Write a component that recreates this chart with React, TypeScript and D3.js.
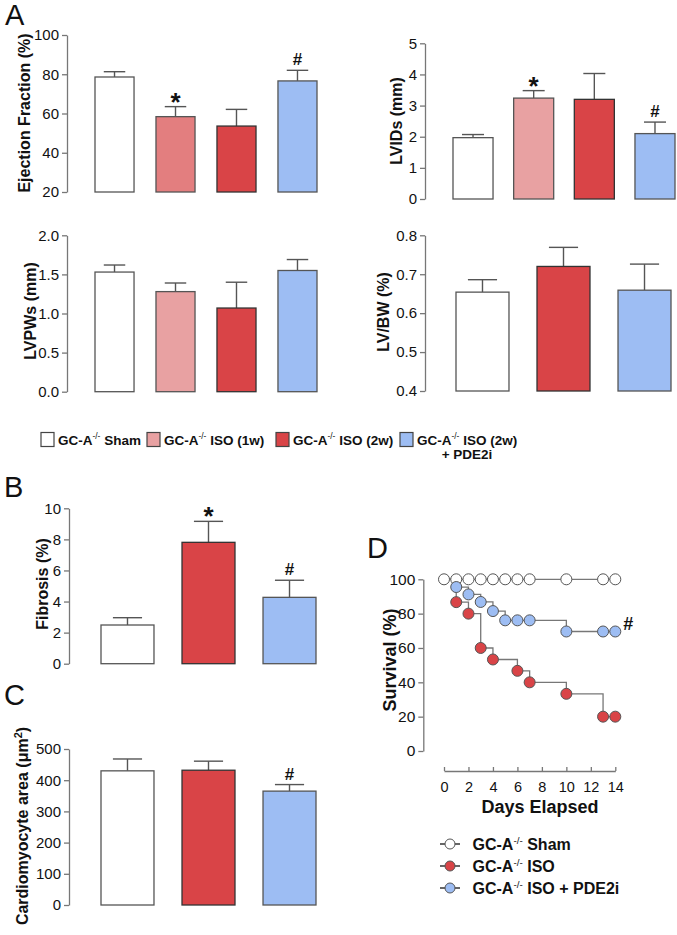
import React, { useEffect, useRef } from "react";
import * as d3 from "d3";

const FONT = "'Liberation Sans', Arial, Helvetica, sans-serif";

// groups
const groups4 = ["sham", "iso1w", "iso2w", "pde2i"];
const groups3 = ["sham", "iso2w", "pde2i"];

// panel A
const efMean = [78.6, 58.4, 53.6, 76.6];
const efSem = [2.7, 5.1, 8.5, 5.4];
const efMarks = ["", "*", "", "#"];
const efTicks = [20, 40, 60, 80, 100];

const lvidsMean = [1.97, 3.24, 3.2, 2.1];
const lvidsSem = [0.1, 0.24, 0.83, 0.37];
const lvidsMarks = ["", "*", "", "#"];
const lvidsTicks = [0, 1, 2, 3, 4, 5];

const lvpwsMean = [1.53, 1.28, 1.07, 1.55];
const lvpwsSem = [0.09, 0.11, 0.33, 0.14];
const lvpwsTicks = [0, 0.5, 1.0, 1.5, 2.0];

const lvbwMean = [0.654, 0.72, 0.659];
const lvbwSem = [0.032, 0.049, 0.067];
const lvbwTicks = [0.4, 0.5, 0.6, 0.7, 0.8];

// panel B
const fibMean = [2.49, 7.81, 4.27];
const fibSem = [0.47, 1.35, 1.1];
const fibMarks = ["", "*", "#"];
const fibTicks = [0, 2, 4, 6, 8, 10];

// panel C
const areaMean = [430, 432, 365];
const areaSem = [38, 29, 21];
const areaMarks = ["", "", "#"];
const areaTicks = [0, 100, 200, 300, 400, 500];

// panel D
const shamDays = [0, 1, 2, 3, 4, 5, 6, 7, 10, 13, 14];
const shamSurv = [100, 100, 100, 100, 100, 100, 100, 100, 100, 100, 100];
const isoDays = [1, 2, 3, 4, 6, 7, 10, 13, 14];
const isoSurv = [86.7, 80, 60, 53.3, 46.7, 40, 33.3, 20, 20];
const pdeDays = [1, 2, 3, 4, 5, 6, 7, 10, 13, 14];
const pdeSurv = [95.5, 91.2, 86.8, 81.5, 76.1, 76.1, 76.1, 69.6, 69.6, 69.6];
const survTicks = [0, 20, 40, 60, 80, 100];
const dayTicks = [0, 2, 4, 6, 8, 10, 12, 14];

const legendA = ["Sham", "ISO (1w)", "ISO (2w)", "ISO (2w)"];
const legendD = ["Sham", "ISO", "ISO + PDE2i"];

const colors: Record<string, string> = {
  sham: "#ffffff",
  iso1w: "#e8a1a2",
  iso2w: "#d94447",
  pde2i: "#9dbdf3",
};

function barPanel(svg: any, p: any) {
  const x = d3.scaleBand().domain(p.groups).range([p.x0, p.x1]).paddingInner(p.pad);
  const y = d3.scaleLinear().domain(p.domain).range([p.bottom, p.top]);
  const g = svg.append("g");

  const ax = g
    .append("g")
    .attr("transform", `translate(${p.axisX},0)`)
    .call(
      d3.axisLeft(y).tickValues(p.ticks).tickSize(5).tickSizeOuter(0).tickPadding(3).tickFormat(p.fmt)
    );
  ax.attr("font-family", null).attr("font-size", null);
  ax.select(".domain").attr("stroke", "#777").attr("stroke-width", 1.3);
  ax.selectAll(".tick line").attr("stroke", "#777").attr("stroke-width", 1.3);
  ax.selectAll(".tick text").attr("font-size", 15).attr("fill", "#111");

  const bw = x.bandwidth();
  const cap = bw * 0.55;
  const base = y(p.domain[0]);

  p.groups.forEach((k: string, i: number) => {
    const cx = x(k)! + bw / 2;
    const top = y(p.mean[i]);
    const errTop = y(p.mean[i] + p.sem[i]);
    g.append("line").attr("x1", cx).attr("x2", cx).attr("y1", top).attr("y2", errTop)
      .attr("stroke", "#555").attr("stroke-width", 1.4);
    g.append("line").attr("x1", cx - cap / 2).attr("x2", cx + cap / 2).attr("y1", errTop).attr("y2", errTop)
      .attr("stroke", "#555").attr("stroke-width", 1.4);
    g.append("rect")
      .attr("x", x(k)!)
      .attr("y", top)
      .attr("width", bw)
      .attr("height", base - top)
      .attr("fill", (p.fills && p.fills[k]) || colors[k])
      .attr("stroke", k === "iso2w" ? "#333" : "#555")
      .attr("stroke-width", 1.3);
    const m = p.marks ? p.marks[i] : "";
    if (m === "*") {
      g.append("text").attr("x", cx).attr("y", errTop + 4).attr("text-anchor", "middle")
        .attr("font-size", 26).attr("font-weight", "bold").attr("fill", "#111").text("*");
    } else if (m === "#") {
      g.append("text").attr("x", cx).attr("y", errTop - 5).attr("text-anchor", "middle")
        .attr("font-size", 17).attr("font-weight", "bold").attr("fill", "#111").text("#");
    }
  });

  const lab = g.append("text")
    .attr("transform", `translate(${p.labelX},${p.labelY}) rotate(-90)`)
    .attr("text-anchor", "middle")
    .attr("dy", "0.36em")
    .attr("font-size", p.labelSize || 16)
    .attr("font-weight", "bold")
    .attr("fill", "#111");
  if (p.label === "area") {
    lab.append("tspan").text("Cardiomyocyte area (\u03bcm");
    lab.append("tspan").attr("dy", -6).attr("font-size", 11).text("2");
    lab.append("tspan").attr("dy", 6).text(")");
  } else {
    lab.text(p.label);
  }
}

function gcText(sel: any, x: number, y: number, size: number, rest: string) {
  const t = sel.append("text").attr("x", x).attr("y", y).attr("font-size", size)
    .attr("font-weight", "bold").attr("fill", "#111");
  t.append("tspan").text("GC-A");
  t.append("tspan").attr("dy", -size * 0.38).attr("font-size", size * 0.62).attr("font-weight", "normal").text("-/-");
  t.append("tspan").attr("dy", size * 0.38).text(" " + rest);
  return t;
}

export default function App() {
  const ref = useRef<SVGSVGElement>(null);

  useEffect(() => {
    const svg = d3.select(ref.current);
    svg.selectAll("*").remove();

    // panel letters
    const letters = [["A", 5, 25], ["B", 4, 497], ["C", 4, 705], ["D", 367, 558]];
    letters.forEach(([t, lx, ly]) => {
      svg.append("text").attr("x", lx).attr("y", ly).attr("font-size", 29).attr("fill", "#111").text(t as string);
    });

    barPanel(svg, {
      groups: groups4, mean: efMean, sem: efSem, marks: efMarks, ticks: efTicks,
      domain: [20, 100], top: 35, bottom: 192, x0: 95, x1: 317, pad: 0.36, axisX: 67,
      fmt: d3.format("d"), label: "Ejection Fraction (%)", labelX: 24, labelY: 113,
      fills: { iso1w: "#e37e7f" },
    });
    barPanel(svg, {
      groups: groups4, mean: lvidsMean, sem: lvidsSem, marks: lvidsMarks, ticks: lvidsTicks,
      domain: [0, 5], top: 43.3, bottom: 199, x0: 453, x1: 675, pad: 0.34, axisX: 425,
      fmt: d3.format("d"), label: "LVIDs (mm)", labelX: 396, labelY: 121,
    });
    barPanel(svg, {
      groups: groups4, mean: lvpwsMean, sem: lvpwsSem, ticks: lvpwsTicks,
      domain: [0, 2], top: 235.3, bottom: 391.7, x0: 95, x1: 317, pad: 0.36, axisX: 67,
      fmt: d3.format(".1f"), label: "LVPWs (mm)", labelX: 30, labelY: 311,
    });
    barPanel(svg, {
      groups: groups3, mean: lvbwMean, sem: lvbwSem, ticks: lvbwTicks,
      domain: [0.4, 0.8], top: 235.3, bottom: 391, x0: 456, x1: 671, pad: 0.346, axisX: 425,
      fmt: d3.format(".1f"), label: "LV/BW (%)", labelX: 383, labelY: 312,
    });

    // legend A
    const lg = svg.append("g");
    const boxX = [41, 147, 276, 400];
    groups4.forEach((k, i) => {
      lg.append("rect").attr("x", boxX[i]).attr("y", 432.5).attr("width", 13).attr("height", 14)
        .attr("fill", colors[k]).attr("stroke", "#444").attr("stroke-width", 1.2);
      gcText(lg, boxX[i] + 17, 444.5, 13.5, legendA[i]);
    });
    lg.append("text").attr("x", 467).attr("y", 458.5).attr("text-anchor", "middle")
      .attr("font-size", 13.5).attr("font-weight", "bold").attr("fill", "#111").text("+ PDE2i");

    barPanel(svg, {
      groups: groups3, mean: fibMean, sem: fibSem, marks: fibMarks, ticks: fibTicks,
      domain: [0, 10], top: 508.3, bottom: 663.7, x0: 101, x1: 316, pad: 0.346, axisX: 69,
      fmt: d3.format("d"), label: "Fibrosis (%)", labelX: 42, labelY: 584,
    });
    barPanel(svg, {
      groups: groups3, mean: areaMean, sem: areaSem, marks: areaMarks, ticks: areaTicks,
      domain: [0, 500], top: 749, bottom: 905, x0: 101, x1: 316, pad: 0.346, axisX: 69,
      fmt: d3.format("d"), label: "area", labelX: 22, labelY: 826,
    });

    // panel D survival
    const xs = d3.scaleLinear().domain([0, 14]).range([444, 615.3]);
    const ys = d3.scaleLinear().domain([0, 100]).range([751, 579.3]);
    const gd = svg.append("g");

    const ay = gd.append("g").attr("transform", "translate(423.3,0)")
      .call(d3.axisLeft(ys).tickValues(survTicks).tickSize(5).tickSizeOuter(0).tickPadding(3));
    ay.attr("font-family", null).attr("font-size", null);
    ay.select(".domain").attr("stroke", "#777").attr("stroke-width", 1.3);
    ay.selectAll(".tick line").attr("stroke", "#777").attr("stroke-width", 1.3);
    ay.selectAll(".tick text").attr("font-size", 15.5).attr("fill", "#111");

    const axb = gd.append("g").attr("transform", "translate(0,771)")
      .call(d3.axisBottom(xs).tickValues(dayTicks).tickSize(-4).tickSizeOuter(0).tickPadding(11));
    axb.attr("font-family", null).attr("font-size", null);
    axb.select(".domain").attr("stroke", "#777").attr("stroke-width", 1.3);
    axb.selectAll(".tick line").attr("stroke", "#777").attr("stroke-width", 1.3);
    axb.selectAll(".tick text").attr("font-size", 14.5).attr("fill", "#111");

    gd.append("text").attr("x", 540).attr("y", 813).attr("text-anchor", "middle")
      .attr("font-size", 18).attr("font-weight", "bold").attr("fill", "#111").text("Days Elapsed");
    gd.append("text").attr("transform", "translate(390,660) rotate(-90)").attr("text-anchor", "middle")
      .attr("dy", "0.36em").attr("font-size", 18).attr("font-weight", "bold").attr("fill", "#111")
      .text("Survival (%)");

    const line = d3.line<[number, number]>().x((d) => xs(d[0])).y((d) => ys(d[1])).curve(d3.curveStepAfter);
    const series = [
      { days: shamDays, surv: shamSurv, fill: colors.sham, start: false },
      { days: isoDays, surv: isoSurv, fill: colors.iso2w, start: true },
      { days: pdeDays, surv: pdeSurv, fill: colors.pde2i, start: true },
    ];
    series.forEach((s) => {
      const pts: [number, number][] = s.days.map((d, i) => [d, s.surv[i]]);
      if (s.start) pts.unshift([0, 100]);
      gd.append("path").attr("d", line(pts)).attr("fill", "none").attr("stroke", "#777").attr("stroke-width", 1.3);
    });
    series.forEach((s) => {
      s.days.forEach((d, i) => {
        gd.append("circle").attr("cx", xs(d)).attr("cy", ys(s.surv[i])).attr("r", 5.5)
          .attr("fill", s.fill).attr("stroke", "#555").attr("stroke-width", 1);
      });
    });
    gd.append("text").attr("x", xs(14) + 8).attr("y", ys(pdeSurv[pdeSurv.length - 1]) - 1)
      .attr("font-size", 18).attr("font-weight", "bold").attr("fill", "#111").text("#");

    // legend D
    const ld = svg.append("g");
    [colors.sham, colors.iso2w, colors.pde2i].forEach((c, i) => {
      const cy = 844 + i * 22;
      ld.append("line").attr("x1", 440).attr("x2", 460).attr("y1", cy).attr("y2", cy)
        .attr("stroke", "#333").attr("stroke-width", 1.5);
      ld.append("circle").attr("cx", 450).attr("cy", cy).attr("r", 5).attr("fill", c)
        .attr("stroke", "#555").attr("stroke-width", 1);
      gcText(ld, 472.5, cy + 6, 16, legendD[i]);
    });
  }, []);

  return (
    <svg
      ref={ref}
      width={677}
      height={935}
      style={{ position: "absolute", left: 0, top: 0, background: "#fff", fontFamily: FONT }}
    />
  );
}
